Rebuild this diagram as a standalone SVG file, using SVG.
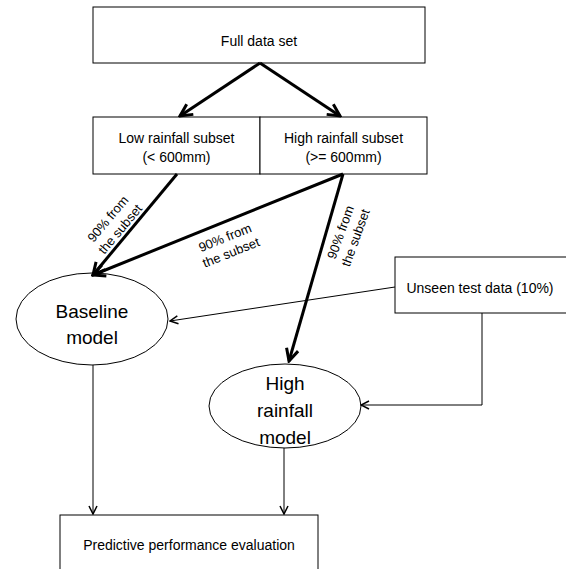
<svg xmlns="http://www.w3.org/2000/svg" width="566" height="569" viewBox="0 0 566 569">
<style>
.box{fill:#fff;stroke:#000;stroke-width:1}
.ell{fill:#fff;stroke:#000;stroke-width:1}
.t{font-family:"Liberation Sans",Arial,sans-serif;font-size:14px;fill:#000;text-anchor:middle}
.tb{font-family:"Liberation Sans",Arial,sans-serif;font-size:19px;fill:#000;text-anchor:middle}
.lb{font-family:"Liberation Sans",Arial,sans-serif;font-size:13px;fill:#000;text-anchor:middle}
.thick{fill:none;stroke:#000;stroke-width:3;marker-end:url(#ah)}
.thin{fill:none;stroke:#000;stroke-width:1;marker-end:url(#at)}
</style>
<defs>
<marker id="ah" viewBox="0 0 16 16" refX="14" refY="8" markerWidth="16" markerHeight="16" markerUnits="userSpaceOnUse" orient="auto"><path d="M2,2 L14,8 L2,14" fill="none" stroke="#000" stroke-width="3"/></marker>
<marker id="at" viewBox="0 0 10 10" refX="9" refY="5" markerWidth="10" markerHeight="10" markerUnits="userSpaceOnUse" orient="auto"><path d="M1,1 L9,5 L1,9" fill="none" stroke="#000" stroke-width="1.5"/></marker>
</defs>
<rect width="566" height="569" fill="#fff"/>
<g id="full"><rect class="box" x="93" y="7" width="332" height="56"/><text class="t" x="259" y="46">Full data set</text></g>
<g id="low"><rect class="box" x="93" y="117" width="167" height="57"/><text class="t" x="176.5" y="143">Low rainfall subset</text><text class="t" x="176.5" y="162">(&lt; 600mm)</text></g>
<g id="high"><rect class="box" x="260" y="117" width="167" height="57"/><text class="t" x="343.5" y="143">High rainfall subset</text><text class="t" x="343.5" y="162">(&gt;= 600mm)</text></g>
<g id="unseen"><rect class="box" x="395" y="257" width="175" height="56"/><text class="t" x="480" y="293">Unseen test data (10%)</text></g>
<g id="baseline"><ellipse class="ell" cx="92" cy="319" rx="76" ry="46"/><text class="tb" x="92" y="318">Baseline</text><text class="tb" x="92" y="344">model</text></g>
<g id="highmodel"><ellipse class="ell" cx="285" cy="406" rx="76" ry="42"/><text class="tb" x="285" y="390">High</text><text class="tb" x="285" y="417">rainfall</text><text class="tb" x="285" y="444">model</text></g>
<g id="eval"><rect class="box" x="60" y="515" width="258" height="60"/><text class="t" x="189" y="550">Predictive performance evaluation</text></g>
<g id="connectors">
<line class="thick" x1="260" y1="63" x2="180" y2="116"/>
<line class="thick" x1="260" y1="63" x2="340" y2="116"/>
<line class="thick" x1="177" y1="174" x2="93" y2="275"/>
<line class="thick" x1="343" y1="174" x2="93" y2="275"/>
<line class="thick" x1="343" y1="174" x2="289" y2="361"/>
<line class="thin" x1="395" y1="287" x2="170" y2="321"/>
<polyline class="thin" points="482,313 482,405 361,405"/>
<line class="thin" x1="93" y1="365" x2="93" y2="514"/>
<line class="thin" x1="284" y1="448" x2="284" y2="514"/>
<g transform="translate(114,224) rotate(-50)"><text class="lb" x="0" y="-3.5">90% from</text><text class="lb" x="0" y="12.5">the subset</text></g>
<g transform="translate(228,245) rotate(-22)"><text class="lb" x="0" y="-3.5">90% from</text><text class="lb" x="0" y="12.5">the subset</text></g>
<g transform="translate(348,235) rotate(-70)"><text class="lb" x="0" y="-3.5">90% from</text><text class="lb" x="0" y="12.5">the subset</text></g>
</g>
</svg>
